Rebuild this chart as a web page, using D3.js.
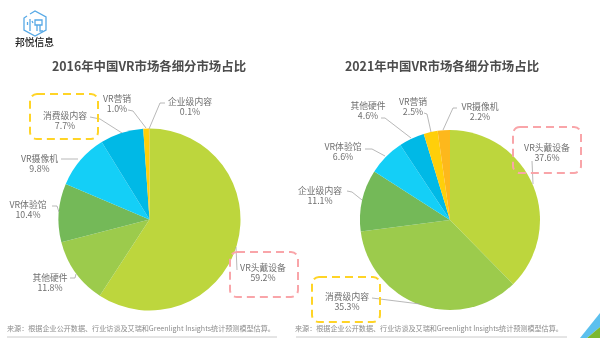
<!DOCTYPE html>
<html>
<head>
<meta charset="utf-8">
<script src="https://cdn.jsdelivr.net/npm/d3@7"></script>
<style>
  html, body { margin: 0; padding: 0; background: #fff; }
  svg { display: block; filter: blur(0.35px); }
  text { font-family: "Noto Sans CJK SC", "Noto Sans", sans-serif; }
</style>
</head>
<body>
<svg id="chart" width="600" height="360"></svg>
<script>
const labels2016 = ["VR头戴设备", "其他硬件", "VR体验馆", "VR摄像机", "消费级内容", "VR营销", "企业级内容"];
const values2016 = [59.2, 11.8, 10.4, 9.8, 7.7, 1.0, 0.1];
const labels2021 = ["VR头戴设备", "消费级内容", "企业级内容", "VR体验馆", "其他硬件", "VR营销", "VR摄像机"];
const values2021 = [37.6, 35.3, 11.1, 6.6, 4.6, 2.5, 2.2];
const sliceColors = ["#bdd63d", "#9ccb4c", "#74b958", "#14cff7", "#00b9e6", "#ffcf0a", "#fdb81c"];

const svg = d3.select("#chart");
const textColor = "#707070";
const lineColor = "#a6a6a6";

function drawPie(title, titleX, names, values, cx, cy, r, labelSpots) {
    const g = svg.append("g");
    g.append("text")
        .attr("x", titleX).attr("y", 71)
        .attr("text-anchor", "middle")
        .attr("font-size", 12.4).attr("font-weight", 700)
        .attr("fill", "#4d4d4d")
        .text(title);

    const pie = d3.pie().sort(null).value(d => d);
    const arc = d3.arc().innerRadius(0).outerRadius(r);
    const arcs = pie(values);

    g.append("g").attr("transform", `translate(${cx},${cy})`)
        .selectAll("path").data(arcs).enter().append("path")
        .attr("d", arc)
        .attr("fill", (d, i) => sliceColors[i]);

    // leader lines run from each label to the rim of its slice
    const line = d3.line();
    names.forEach((name, i) => {
        const spot = labelSpots[i];
        g.append("path")
            .attr("d", line(spot.leader))
            .attr("fill", "none")
            .attr("stroke", lineColor)
            .attr("stroke-width", 0.8);
        const t = g.append("text")
            .attr("text-anchor", "middle")
            .attr("font-size", 8.8)
            .attr("fill", textColor);
        t.append("tspan").attr("x", spot.x).attr("y", spot.y).text(name);
        t.append("tspan").attr("x", spot.x).attr("y", spot.y + 10.3).text(values[i].toFixed(1) + "%");
    });
}

drawPie("2016年中国VR市场各细分市场占比", 149, labels2016, values2016, 149.5, 219.5, 91, [
    { x: 263, y: 271, leader: [[236, 247], [237, 270]] },
    { x: 50, y: 281, leader: [[70, 278], [75, 278], [76, 274]] },
    { x: 28, y: 208, leader: [[52, 206], [57, 206], [59, 212]] },
    { x: 39.5, y: 162, leader: [[61, 159], [78, 159]] },
    { x: 65, y: 119, leader: [[90, 117], [100, 119], [122, 133]] },
    { x: 117, y: 102, leader: [[128, 110], [133, 111], [146, 128]] },
    { x: 190, y: 105, leader: [[165, 103], [160, 103], [149, 129]] }
]);

drawPie("2021年中国VR市场各细分市场占比", 442, labels2021, values2021, 450, 220, 90, [
    { x: 547, y: 151, leader: [[532, 161], [533, 184]] },
    { x: 347, y: 300, leader: [[372, 298], [420, 304]] },
    { x: 320, y: 194, leader: [[347, 191], [352, 192], [362, 200]] },
    { x: 343, y: 150, leader: [[365, 149], [372, 149], [385, 156]] },
    { x: 368, y: 109, leader: [[381, 118], [385, 118], [411, 138]] },
    { x: 413, y: 105, leader: [[424, 113], [427, 114], [431, 132]] },
    { x: 480, y: 110, leader: [[457, 108], [453, 108], [443, 130]] }
]);

// dashed callout boxes
const boxes = [
    { x: 30, y: 94, w: 68, h: 45, color: "#ffd426" },
    { x: 230, y: 252, w: 68, h: 45, color: "#f9a5a9" },
    { x: 513, y: 127, w: 68, h: 46, color: "#f9a5a9" },
    { x: 312, y: 277, w: 68, h: 45, color: "#ffd426" }
];
svg.append("g").selectAll("rect").data(boxes).enter().append("rect")
    .attr("x", d => d.x).attr("y", d => d.y)
    .attr("width", d => d.w).attr("height", d => d.h)
    .attr("rx", 7)
    .attr("fill", "none")
    .attr("stroke", d => d.color)
    .attr("stroke-width", 2)
    .attr("stroke-dasharray", "8 5");

// source notes and rules
const notes = [
    { x: 7, rule: [7, 277] },
    { x: 295, rule: [296, 567] }
];
const noteText = "来源：根据企业公开数据、行业访谈及艾瑞和Greenlight Insights统计预测模型估算。";
notes.forEach(n => {
    svg.append("text").attr("x", n.x).attr("y", 331)
        .attr("font-size", 7.1).attr("fill", "#8c8c8c").text(noteText);
    svg.append("line").attr("x1", n.rule[0]).attr("x2", n.rule[1])
        .attr("y1", 337).attr("y2", 337)
        .attr("stroke", "#bdbdbd").attr("stroke-width", 0.8);
});

// logo
const logo = svg.append("g").attr("fill", "none").attr("stroke", "#57a9e6").attr("stroke-width", 1.3);
logo.append("path").attr("d", "M30 14 L35 11 L46 17 L46 30 L35 36 L24 30 L24 18 L27 16");
logo.append("path").attr("d", "M30 19 V31 M27.5 22 V25 M32 21 L33 23 M35 20 H42 V25 H35 Z M37 25 V31 M40 25 V31 H43");
svg.append("text").attr("x", 34.5).attr("y", 46)
    .attr("text-anchor", "middle").attr("font-size", 9.8).attr("font-weight", 500).attr("fill", "#222").text("邦悦信息");

// corner decoration
const corner = svg.append("g");
corner.append("path").attr("d", "M580 338 L600 313 V327 L587 338 Z").attr("fill", "#5cc0ee");
corner.append("path").attr("d", "M587 338 L600 327 V338 Z").attr("fill", "#7cb82f");
</script>
</body>
</html>
